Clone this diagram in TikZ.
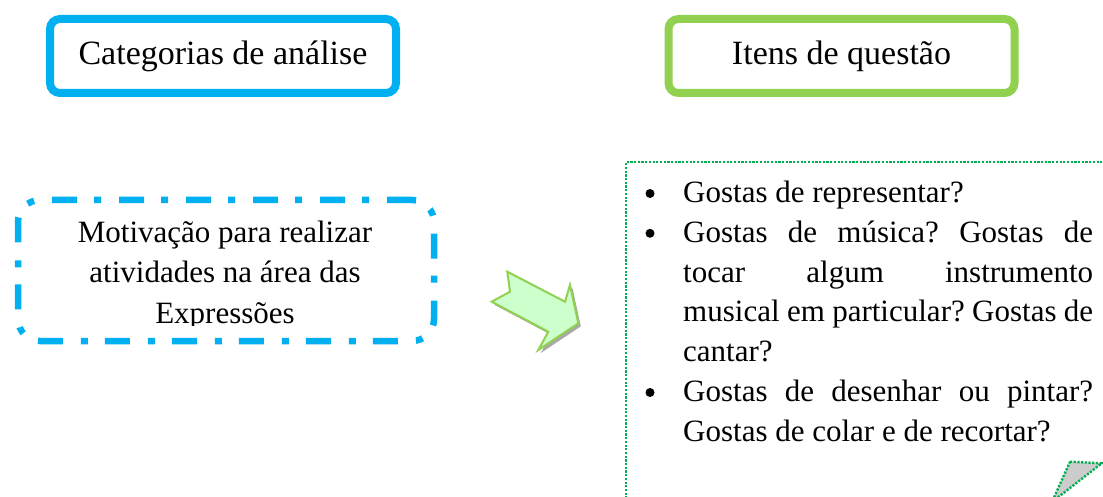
\documentclass[tikz,border=0pt]{standalone}
\usepackage{fontspec}
\setmainfont{Liberation Serif}
\definecolor{cyanb}{HTML}{00B0F0}
\definecolor{greenb}{HTML}{92D050}
\definecolor{dotg}{HTML}{00B050}
\definecolor{arrowfill}{HTML}{CCFFCC}
\definecolor{shadowg}{HTML}{A8A8A8}
\begin{document}
\frenchspacing
\begin{tikzpicture}[x=1pt,y=-1pt,
  titlebox/.style={draw, line width=8pt, rounded corners=10pt, minimum width=346pt, minimum height=74pt, inner sep=0pt},
  titletext/.style={anchor=base, font=\fontsize{34}{40}\selectfont, inner sep=0pt},
  boxtext/.style={anchor=base, font=\fontsize{31}{40}\selectfont, inner sep=0pt},
  bodytext/.style={anchor=base west, font=\fontsize{31}{40}\selectfont, inner sep=0pt},
  bulletdot/.style={circle, fill=black, inner sep=0pt, minimum size=9pt},
  dotline/.style={draw=dotg, line width=2.4pt, dash pattern=on 2.2pt off 1.5pt}]
\useasboundingbox (0,0) rectangle (1103,497);
\clip (0,0) rectangle (1103,497);
\fill[white] (0,0) rectangle (1103,497);

% title boxes
\node[titlebox, draw=cyanb] (catbox) at (223,56) {};
\node[titletext] (cattext) at (223,65) {Categorias de análise};
\node[titlebox, draw=greenb] (itbox) at (841.5,56) {};
\node[titletext] (ittext) at (841.5,65) {Itens de questão};

% left dash-dot box
\node[draw=cyanb, line width=6.5pt, dash pattern=on 25pt off 18pt on 7pt off 17pt,
      rounded corners=22pt, minimum width=416pt, minimum height=141pt] (motbox) at (226,270.5) {};
\begin{scope}
  \clip (0,0) rectangle (1103,325);
  \node[boxtext] (m1) at (225,243) {Motivação para realizar};
  \node[boxtext] (m2) at (225,282) {atividades na área das};
  \node[boxtext] (m3) at (225,323) {Expressões};
\end{scope}

% arrow
\fill[shadowg, shift={(2.5,3)}] (507.3,271.7) -- (565,301.7) -- (570,285) -- (578.3,323.3) -- (538.3,350) -- (548.3,331.7) -- (491.7,301.7) -- (510,291.7) -- cycle;
\filldraw[fill=arrowfill, draw=greenb, line width=2pt, line join=miter] (507.3,271.7) -- (565,301.7) -- (570,285) -- (578.3,323.3) -- (538.3,350) -- (548.3,331.7) -- (491.7,301.7) -- (510,291.7) -- cycle;

% right dotted box
\node[dotline, minimum width=505pt, minimum height=369pt, inner sep=0pt, anchor=north west] (qbox) at (625,161) {};
\filldraw[fill=gray!40, dotline] (1070,461.7) -- (1101.7,463.3) -- (1052,502) -- cycle;

% list
\node[bulletdot] (b1) at (650,193.5) {};
\node[bulletdot] (b2) at (650,233.3) {};
\node[bulletdot] (b3) at (650,392.5) {};
\node[bodytext] (l1) at (683,202.5) {Gostas de representar?};
\node[bodytext] (l2) at (683,242.3) {\makebox[410pt][s]{Gostas de música? Gostas de}};
\node[bodytext] (l3) at (683,282.1) {\makebox[410pt][s]{tocar algum instrumento}};
\node[bodytext] (l4) at (683,321.9) {\makebox[410pt][s]{musical em particular? Gostas de}};
\node[bodytext] (l5) at (683,361.7) {cantar?};
\node[bodytext] (l6) at (683,401.5) {\makebox[410pt][s]{Gostas de desenhar ou pintar?}};
\node[bodytext] (l7) at (683,441.3) {Gostas de colar e de recortar?};
\end{tikzpicture}
\end{document}
